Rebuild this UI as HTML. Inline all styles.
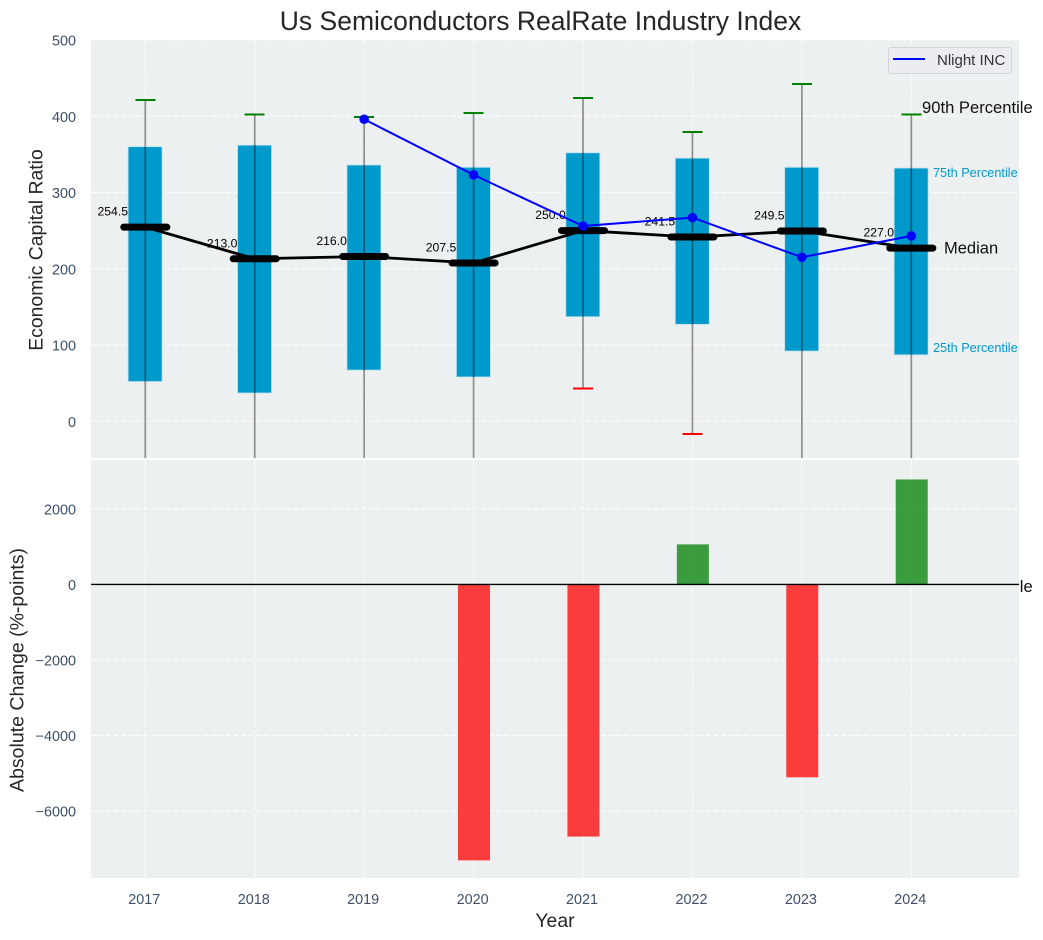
<!DOCTYPE html>
<html lang="en">
<head>
<meta charset="utf-8">
<title>Us Semiconductors RealRate Industry Index</title>
<style>
html,body{margin:0;padding:0;background:#fff;width:1043px;height:940px;overflow:hidden}
svg{display:block;font-family:"Liberation Sans",Arial,sans-serif}
</style>
</head>
<body>
<svg id="chart" xmlns="http://www.w3.org/2000/svg" width="1043" height="940" viewBox="0 0 1043 940"></svg>
<script>
const years = [2017, 2018, 2019, 2020, 2021, 2022, 2023, 2024];
const p90 = [421, 402, 399, 404, 424, 379, 442, 402];
const p75 = [360, 362, 336, 333, 352, 345, 333, 332];
const medians = [254.5, 213.0, 216.0, 207.5, 250.0, 241.5, 249.5, 227.0];
const p25 = [52, 37, 67, 58, 137, 127, 92, 87];
const p10 = [-75, -90, -70, -85, 43, -17, -60, -70];
const nlight = [null, null, 396, 323, 256, 267, 215, 243];
const absChange = [null, null, null, -7310, -6680, 1060, -5110, 2780];
const topTicks = [0, 100, 200, 300, 400, 500];
const bottomTicks = [-6000, -4000, -2000, 0, 2000];

const NS = 'http://www.w3.org/2000/svg';
const svg = document.getElementById('chart');
const AX = {l: 91, r: 1019, tt: 40, tb: 458, bt: 460, bb: 878};
const xPos = y => 145.3 + (y - 2017) * 109.43;
const yTop = v => 421.2 - 0.7625 * v;
const yBot = v => 584.4 - 0.03775 * v;
const fmt = v => String(v).replace('-', '\u2212');

function mk(parent, tag, attrs, text) {
  const node = document.createElementNS(NS, tag);
  for (const k in attrs) node.setAttribute(k, attrs[k]);
  if (text !== undefined) node.textContent = text;
  parent.appendChild(node);
  return node;
}

let el;
const defs = mk(svg, 'defs', {});
const clipA = mk(defs, 'clipPath', {id: 'clip-top'});
mk(clipA, 'rect', {x: AX.l, y: AX.tt, width: AX.r - AX.l, height: AX.tb - AX.tt});
const clipB = mk(defs, 'clipPath', {id: 'clip-bottom'});
mk(clipB, 'rect', {x: AX.l, y: AX.bt, width: AX.r - AX.l, height: AX.bb - AX.bt});

/* top panel */
el = mk(svg, 'rect', {x: AX.l, y: AX.tt, width: AX.r - AX.l, height: AX.tb - AX.tt, fill: '#ecf0f1'});



const gridTop = mk(svg, 'g', {stroke: '#fff', 'stroke-width': 1.1, 'stroke-dasharray': '5 2.5', opacity: 0.8});


topTicks.forEach(t => {
  mk(gridTop, 'line', {x1: AX.l, x2: AX.r, y1: yTop(t), y2: yTop(t)});
});
years.forEach(y => {
  mk(gridTop, 'line', {x1: xPos(y), x2: xPos(y), y1: AX.tt, y2: AX.tb});
});

/* hidden-by-panel annotation: only its tail shows past the bottom panel */
el = mk(svg, 'text', {x: 922, y: 592, 'font-size': 16.6, fill: '#111'}, '10th Percentile');



/* bottom panel */
el = mk(svg, 'rect', {x: AX.l, y: AX.bt, width: AX.r - AX.l, height: AX.bb - AX.bt, fill: '#ecf0f1'});



const gridBot = mk(svg, 'g', {stroke: '#fff', 'stroke-width': 1.1, 'stroke-dasharray': '5 2.5', opacity: 0.8});


bottomTicks.forEach(t => {
  mk(gridBot, 'line', {x1: AX.l, x2: AX.r, y1: yBot(t), y2: yBot(t)});
});
years.forEach(y => {
  mk(gridBot, 'line', {x1: xPos(y), x2: xPos(y), y1: AX.bt, y2: AX.bb});
});

/* top marks */
const topMarks = mk(svg, 'g', {'clip-path': 'url(#clip-top)'});



years.forEach((y, i) => {
  el = mk(topMarks, 'text', {x: xPos(y) - 17.3, y: yTop(medians[i]) - 11.5, 'font-size': 12.2, 'text-anchor': 'end', fill: '#000'}, medians[i].toFixed(1));
  
  
});

years.forEach((y, i) => {
  el = mk(topMarks, 'rect', {x: xPos(y) - 17.2, y: yTop(p75[i]), width: 34, height: yTop(p25[i]) - yTop(p75[i]), fill: '#0099cc', stroke: '#bfe3ef', 'stroke-width': 0.8});
  
  
});

years.forEach((y, i) => {
  el = mk(topMarks, 'line', {x1: xPos(y), x2: xPos(y), y1: yTop(p90[i]), y2: yTop(p10[i]), stroke: '#000', 'stroke-opacity': 0.42, 'stroke-width': 1.7});
  
  
  el = mk(topMarks, 'line', {x1: xPos(y) - 10, x2: xPos(y) + 10, y1: yTop(p90[i]), y2: yTop(p90[i]), stroke: '#008000', 'stroke-width': 2, 'shape-rendering': 'crispEdges'});
  
  
  el = mk(topMarks, 'line', {x1: xPos(y) - 10, x2: xPos(y) + 10, y1: yTop(p10[i]), y2: yTop(p10[i]), stroke: '#ff0000', 'stroke-width': 2, 'shape-rendering': 'crispEdges'});
  
  
});

el = mk(topMarks, 'polyline', {points: years.map((y, i) => xPos(y) + ',' + yTop(medians[i])).join(' '), fill: 'none', stroke: '#000', 'stroke-width': 2.8, 'stroke-linejoin': 'round'});



years.forEach((y, i) => {
  el = mk(topMarks, 'line', {x1: xPos(y) - 21.5, x2: xPos(y) + 21.5, y1: yTop(medians[i]), y2: yTop(medians[i]), stroke: '#000', 'stroke-width': 7, 'stroke-linecap': 'round'});
  
  
});

const nlightPts = years.map((y, i) => [y, nlight[i]]).filter(p => p[1] !== null);
el = mk(topMarks, 'polyline', {points: nlightPts.map(p => xPos(p[0]) + ',' + yTop(p[1])).join(' '), fill: 'none', stroke: '#0000ff', 'stroke-width': 2});


nlightPts.forEach(p => {
  el = mk(topMarks, 'circle', {cx: xPos(p[0]), cy: yTop(p[1]), r: 4.8, fill: '#0000ff'});
  
  
});

/* percentile annotations */
el = mk(svg, 'text', {x: 922, y: 113, 'font-size': 16.6, fill: '#111'}, '90th Percentile');


el = mk(svg, 'text', {x: 933, y: 177, 'font-size': 12.7, fill: '#0099cc'}, '75th Percentile');


el = mk(svg, 'text', {x: 944, y: 253.5, 'font-size': 16.5, fill: '#111'}, 'Median');


el = mk(svg, 'text', {x: 933, y: 352, 'font-size': 12.7, fill: '#0099cc'}, '25th Percentile');



/* legend */
const legendGroup = mk(svg, 'g', {});


el = mk(legendGroup, 'rect', {x: 888.5, y: 47.5, width: 123, height: 26, rx: 3, fill: '#ebedf2', stroke: '#d2d4d8', 'stroke-width': 1});


el = mk(legendGroup, 'line', {x1: 893, x2: 925, y1: 59, y2: 59, stroke: '#0000ff', 'stroke-width': 2});


el = mk(legendGroup, 'text', {x: 937, y: 65, 'font-size': 15, fill: '#333'}, 'Nlight INC');



/* bottom marks */
const bottomMarks = mk(svg, 'g', {'clip-path': 'url(#clip-bottom)'});


years.forEach((y, i) => {
  const v = absChange[i];
  if (v === null) return;
  el = mk(bottomMarks, 'rect', {x: xPos(y) - 15.6, y: Math.min(yBot(v), yBot(0)), width: 32, height: Math.abs(yBot(v) - yBot(0)), fill: v >= 0 ? '#008000' : '#ff0000', 'fill-opacity': 0.75});
  
  
});
el = mk(svg, 'line', {x1: AX.l, x2: AX.r, y1: yBot(0), y2: yBot(0), stroke: '#000', 'stroke-width': 1.4});



/* tick labels */
topTicks.forEach(t => {
  el = mk(svg, 'text', {x: 76, y: yTop(t) + 5.6, 'font-size': 14.4, 'text-anchor': 'end', fill: '#3e5067'}, fmt(t));
  
  
});
bottomTicks.forEach(t => {
  el = mk(svg, 'text', {x: 76, y: yBot(t) + 5.6, 'font-size': 14.4, 'text-anchor': 'end', fill: '#3e5067'}, fmt(t));
  
  
});
years.forEach(y => {
  el = mk(svg, 'text', {x: xPos(y) - 1, y: 904, 'font-size': 14.4, 'text-anchor': 'middle', fill: '#3e5067'}, y);
  
  
});

/* titles */
el = mk(svg, 'text', {x: 540.5, y: 30, 'font-size': 26.5, 'text-anchor': 'middle', fill: '#262626'}, 'Us Semiconductors RealRate Industry Index');


el = mk(svg, 'text', {x: 555, y: 927, 'font-size': 19.4, 'text-anchor': 'middle', fill: '#262626'}, 'Year');


el = mk(svg, 'text', {transform: 'translate(42.5,250) rotate(-90)', 'font-size': 19.4, 'text-anchor': 'middle', fill: '#262626'}, 'Economic Capital Ratio');


el = mk(svg, 'text', {transform: 'translate(23.5,670) rotate(-90)', 'font-size': 19.5, 'text-anchor': 'middle', fill: '#262626'}, 'Absolute Change (%-points)');


</script>
</body>
</html>
